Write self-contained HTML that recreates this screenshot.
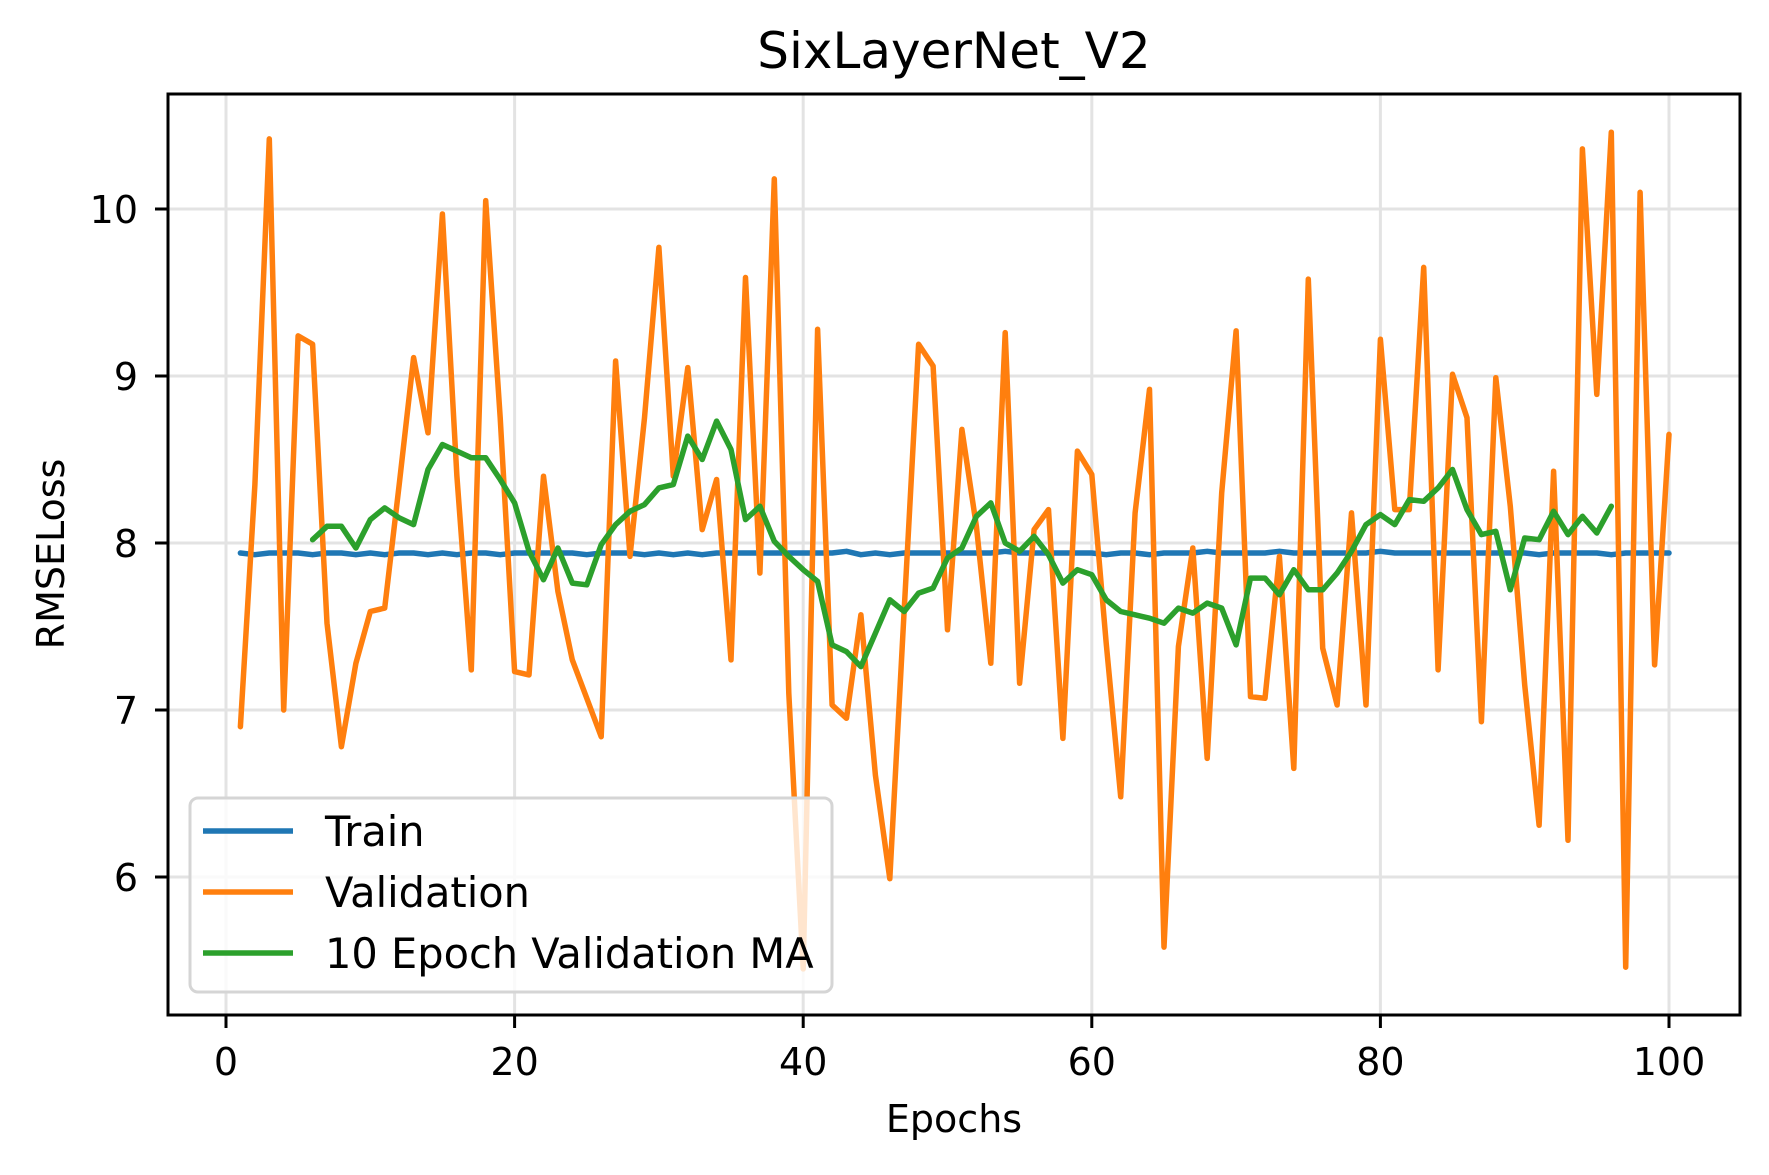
<!DOCTYPE html>
<html><head><meta charset="utf-8"><style>
html,body{margin:0;padding:0;background:#fff;}
svg text{font-family:"DejaVu Sans","Liberation Sans",sans-serif;fill:#000;}
</style></head><body>
<svg id="chart" width="1769" height="1170" viewBox="0 0 1769 1170" xmlns="http://www.w3.org/2000/svg">
<rect x="0" y="0" width="1769" height="1170" fill="#fff"/>
<text x="954" y="68" font-size="50" text-anchor="middle">SixLayerNet_V2</text>
<g id="grid"></g>
<g id="series"></g>
<rect x="168" y="94" width="1572" height="921" fill="none" stroke="#000" stroke-width="3"/>
<g id="ticks"></g>
<text x="954" y="1132" font-size="38" text-anchor="middle">Epochs</text>
<text x="0" y="0" font-size="38" text-anchor="middle" transform="translate(64,554) rotate(-90)">RMSELoss</text>
<g id="legend">
<rect x="190" y="798" width="642" height="194" rx="8" fill="#fff" fill-opacity="0.8" stroke="#d5d5d5" stroke-width="3"/>
<line x1="203" y1="831" x2="293" y2="831" stroke="#1f77b4" stroke-width="5.5"/>
<text x="325" y="846" font-size="41.5">Train</text>
<line x1="203" y1="892" x2="293" y2="892" stroke="#ff7f0e" stroke-width="5.5"/>
<text x="325" y="907" font-size="41.5">Validation</text>
<line x1="203" y1="953" x2="293" y2="953" stroke="#2ca02c" stroke-width="5.5"/>
<text x="325" y="968" font-size="41.5">10 Epoch Validation MA</text>
</g>
</svg>
<script>
const xTicks = [0, 20, 40, 60, 80, 100];
const yTicks = [6, 7, 8, 9, 10];
const validation = [6.90,8.35,10.42,7.00,9.24,9.19,7.52,6.78,7.28,7.59,7.61,8.35,9.11,8.66,9.97,8.40,7.24,10.05,8.75,7.23,
7.21,8.40,7.71,7.30,7.07,6.84,9.09,7.92,8.75,9.77,8.40,9.05,8.08,8.38,7.30,9.59,7.82,10.18,7.10,5.45,
9.28,7.03,6.95,7.57,6.61,5.99,7.60,9.19,9.06,7.48,8.68,8.10,7.28,9.26,7.16,8.08,8.20,6.83,8.55,8.41,
7.40,6.48,8.18,8.92,5.58,7.38,7.97,6.71,8.30,9.27,7.08,7.07,7.92,6.65,9.58,7.37,7.03,8.18,7.03,9.22,
8.20,8.20,9.65,7.24,9.01,8.75,6.93,8.99,8.22,7.15,6.31,8.43,6.22,10.36,8.89,10.46,5.46,10.10,7.27,8.65];
const maStart = 6;
const movingAvg = [8.02,8.10,8.10,7.97,8.14,8.21,8.15,8.11,8.44,8.59,8.55,8.51,8.51,8.38,8.24,7.95,7.78,7.97,7.76,7.75,
7.99,8.11,8.19,8.23,8.33,8.35,8.64,8.50,8.73,8.56,8.14,8.22,8.01,7.92,7.84,7.77,7.39,7.35,7.26,7.46,
7.66,7.59,7.70,7.73,7.91,7.97,8.16,8.24,8.00,7.95,8.04,7.93,7.76,7.84,7.81,7.66,7.59,7.57,7.55,7.52,
7.61,7.58,7.64,7.61,7.39,7.79,7.79,7.69,7.84,7.72,7.72,7.82,7.95,8.11,8.17,8.11,8.26,8.25,8.33,8.44,
8.20,8.05,8.07,7.72,8.03,8.02,8.19,8.05,8.16,8.06,8.22];
const train = [7.94,7.93,7.94,7.94,7.94,7.93,7.94,7.94,7.93,7.94,7.93,7.94,7.94,7.93,7.94,7.93,7.94,7.94,7.93,7.94,
7.94,7.94,7.94,7.94,7.93,7.94,7.94,7.94,7.93,7.94,7.93,7.94,7.93,7.94,7.94,7.94,7.94,7.94,7.94,7.94,
7.94,7.94,7.95,7.93,7.94,7.93,7.94,7.94,7.94,7.94,7.94,7.94,7.94,7.95,7.94,7.94,7.94,7.94,7.94,7.94,
7.93,7.94,7.94,7.93,7.94,7.94,7.94,7.95,7.94,7.94,7.94,7.94,7.95,7.94,7.94,7.94,7.94,7.94,7.94,7.95,
7.94,7.94,7.94,7.94,7.94,7.94,7.94,7.94,7.94,7.94,7.93,7.94,7.94,7.94,7.94,7.93,7.94,7.94,7.94,7.94];

const NS = 'http://www.w3.org/2000/svg';
const L = 168, R = 1740, T = 94, B = 1015;
function xScale(e){ return 226 + (e - 0) * (1669 - 226) / 100; }
function yScale(v){ return 209 + (10 - v) * 167; }
function mk(tag, attrs, parent){ const el = document.createElementNS(NS, tag); for (const k in attrs) el.setAttribute(k, attrs[k]); parent.appendChild(el); return el; }
const grid = document.getElementById('grid'), ticks = document.getElementById('ticks'), series = document.getElementById('series');

xTicks.forEach(t => {
  const x = xScale(t);
  const g = mk('line', {x1:x, x2:x, y1:T, y2:B, stroke:'#e3e3e3', 'stroke-width':3}, grid);
  
  
  const tk = mk('line', {x1:x, x2:x, y1:B, y2:B+13, stroke:'#000', 'stroke-width':3}, ticks);
  
  
  const lb = mk('text', {x:x, y:1075, 'font-size':38, 'text-anchor':'middle'}, ticks);
  lb.textContent = t;
  
  
});
yTicks.forEach(t => {
  const y = yScale(t);
  const g = mk('line', {x1:L, x2:R, y1:y, y2:y, stroke:'#e3e3e3', 'stroke-width':3}, grid);
  
  
  const tk = mk('line', {x1:L-13, x2:L, y1:y, y2:y, stroke:'#000', 'stroke-width':3}, ticks);
  
  
  const lb = mk('text', {x:138, y:y+14, 'font-size':38, 'text-anchor':'end'}, ticks);
  lb.textContent = t;
  
  
});
function pts(arr, start){ return arr.map((v,i) => xScale(start+i).toFixed(1)+','+yScale(v).toFixed(1)).join(' '); }
const pTrain = mk('polyline', {points:pts(train,1), fill:'none', stroke:'#1f77b4', 'stroke-width':5.5, 'stroke-linejoin':'round', 'stroke-linecap':'round'}, series);


const pVal = mk('polyline', {points:pts(validation,1), fill:'none', stroke:'#ff7f0e', 'stroke-width':5.5, 'stroke-linejoin':'round', 'stroke-linecap':'round'}, series);


const pMa = mk('polyline', {points:pts(movingAvg,maStart), fill:'none', stroke:'#2ca02c', 'stroke-width':5.5, 'stroke-linejoin':'round', 'stroke-linecap':'round'}, series);


</script>
</body></html>
